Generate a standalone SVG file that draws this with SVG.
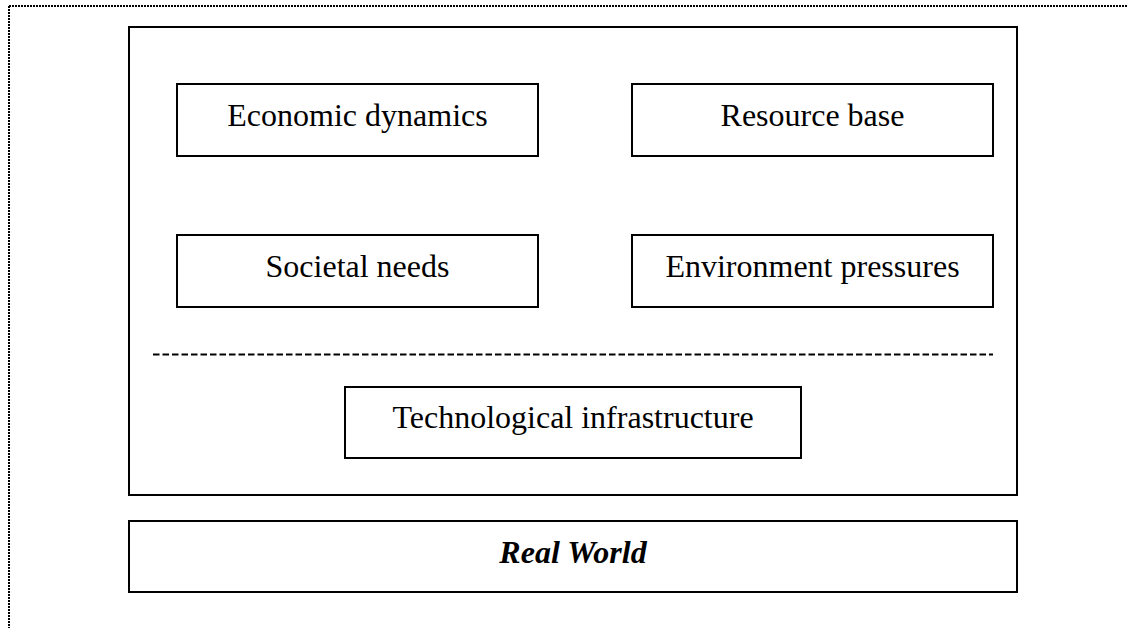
<svg xmlns="http://www.w3.org/2000/svg" width="1127" height="628" viewBox="0 0 1127 628">
<style>
.box{fill:#fff;stroke:#000;stroke-width:2}
.lbl{font-family:"Liberation Serif","Times New Roman",serif;font-size:32px;fill:#000;text-anchor:middle}
.rw{font-weight:bold;font-style:italic}
</style>
<rect width="1127" height="628" fill="#fff"/>
<g id="page-border" fill="none" stroke="#000" stroke-width="2" stroke-dasharray="2 1">
<line x1="9" y1="6" x2="1127" y2="6"/>
<line x1="9" y1="6" x2="9" y2="628"/>
</g>
<g id="system">
<rect class="box" x="129" y="27" width="888" height="468"/>
</g>
<g id="economic-dynamics">
<rect class="box" x="177" y="84" width="361" height="72"/>
<text class="lbl" x="357.5" y="126">Economic dynamics</text>
</g>
<g id="resource-base">
<rect class="box" x="632" y="84" width="361" height="72"/>
<text class="lbl" x="812.5" y="126">Resource base</text>
</g>
<g id="societal-needs">
<rect class="box" x="177" y="235" width="361" height="72"/>
<text class="lbl" x="357.5" y="277">Societal needs</text>
</g>
<g id="environment-pressures">
<rect class="box" x="632" y="235" width="361" height="72"/>
<text class="lbl" x="812.5" y="277">Environment pressures</text>
</g>
<g id="connectors">
<line x1="153" y1="354.5" x2="993" y2="354.5" stroke="#000" stroke-width="2" stroke-dasharray="6.5 3"/>
</g>
<g id="technological-infrastructure">
<rect class="box" x="345" y="387" width="456" height="71"/>
<text class="lbl" x="573" y="428">Technological infrastructure</text>
</g>
<g id="real-world">
<rect class="box" x="129" y="521" width="888" height="71"/>
<text class="lbl rw" x="573" y="563">Real World</text>
</g>
</svg>
